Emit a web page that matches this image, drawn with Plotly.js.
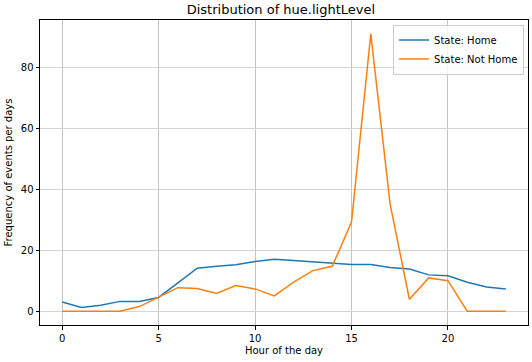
<!DOCTYPE html>
<html>
<head>
<meta charset="utf-8">
<script src="https://cdn.plot.ly/plotly-3.0.1.min.js"></script>
<style>html,body{margin:0;padding:0;background:#fff;}#chart{width:532px;height:362px;}</style>
</head>
<body>
<div id="chart"></div>
<script>
const hours = [0,1,2,3,4,5,6,7,8,9,10,11,12,13,14,15,16,17,18,19,20,21,22,23];
const home = [3.0,1.2,1.9,3.2,3.2,4.5,9.3,14.1,14.7,15.2,16.3,17.0,16.6,16.1,15.6,15.3,15.3,14.3,13.8,11.9,11.6,9.5,7.9,7.3];
const notHome = [0,0,0,0,1.5,4.5,7.7,7.4,5.8,8.4,7.3,5.0,9.5,13.3,14.7,29.2,91.0,35.2,3.9,10.9,10.0,0,0,0];
const seriesNames = ["State: Home", "State: Not Home"];
const xTicks = [0,5,10,15,20];
const yTicks = [0,20,40,60,80];

const font = {family: "DejaVu Sans", size: 10, color: "#000"};
const traces = [
  {x: hours, y: home, name: seriesNames[0], type: "scatter", mode: "lines", line: {color: "#1f77b4", width: 1.5}},
  {x: hours, y: notHome, name: seriesNames[1], type: "scatter", mode: "lines", line: {color: "#ff7f0e", width: 1.5}}
];
const layout = {
  width: 532, height: 362,
  margin: {l: 40, r: 4, t: 20, b: 37},
  paper_bgcolor: "#fff", plot_bgcolor: "#fff",
  font: font,
  showlegend: true,
  title: {text: "Distribution of hue.lightLevel", font: {family: "DejaVu Sans", size: 13, color: "#000"}, x: 0.528, xanchor: "center", y: 0.975, yanchor: "middle"},
  xaxis: {
    range: [-1.15, 24.15], tickvals: xTicks, ticktext: xTicks.map(String),
    showgrid: true, gridcolor: "#c4c4c4", gridwidth: 1,
    showline: true, linecolor: "#000", linewidth: 1, mirror: true,
    ticks: "outside", ticklen: 3.5, tickcolor: "#000", zeroline: false,
    tickfont: font,
    title: {text: "Hour of the day", font: font, standoff: 4}
  },
  yaxis: {
    range: [-4.55, 95.55], tickvals: yTicks, ticktext: yTicks.map(String),
    showgrid: true, gridcolor: "#d4d4d4", gridwidth: 1,
    showline: true, linecolor: "#000", linewidth: 1, mirror: true,
    ticks: "outside", ticklen: 3.5, tickcolor: "#000", zeroline: false,
    tickfont: font,
    title: {text: "Frequency of events per days", font: font, standoff: 6}
  },
  legend: {
    x: 0.992, y: 0.985, xanchor: "right", yanchor: "top",
    bgcolor: "rgba(255,255,255,0.8)", bordercolor: "#cccccc", borderwidth: 1,
    font: font, tracegroupgap: 0
  }
};
Plotly.newPlot("chart", traces, layout, {displayModeBar: false, staticPlot: true});
</script>
</body>
</html>
